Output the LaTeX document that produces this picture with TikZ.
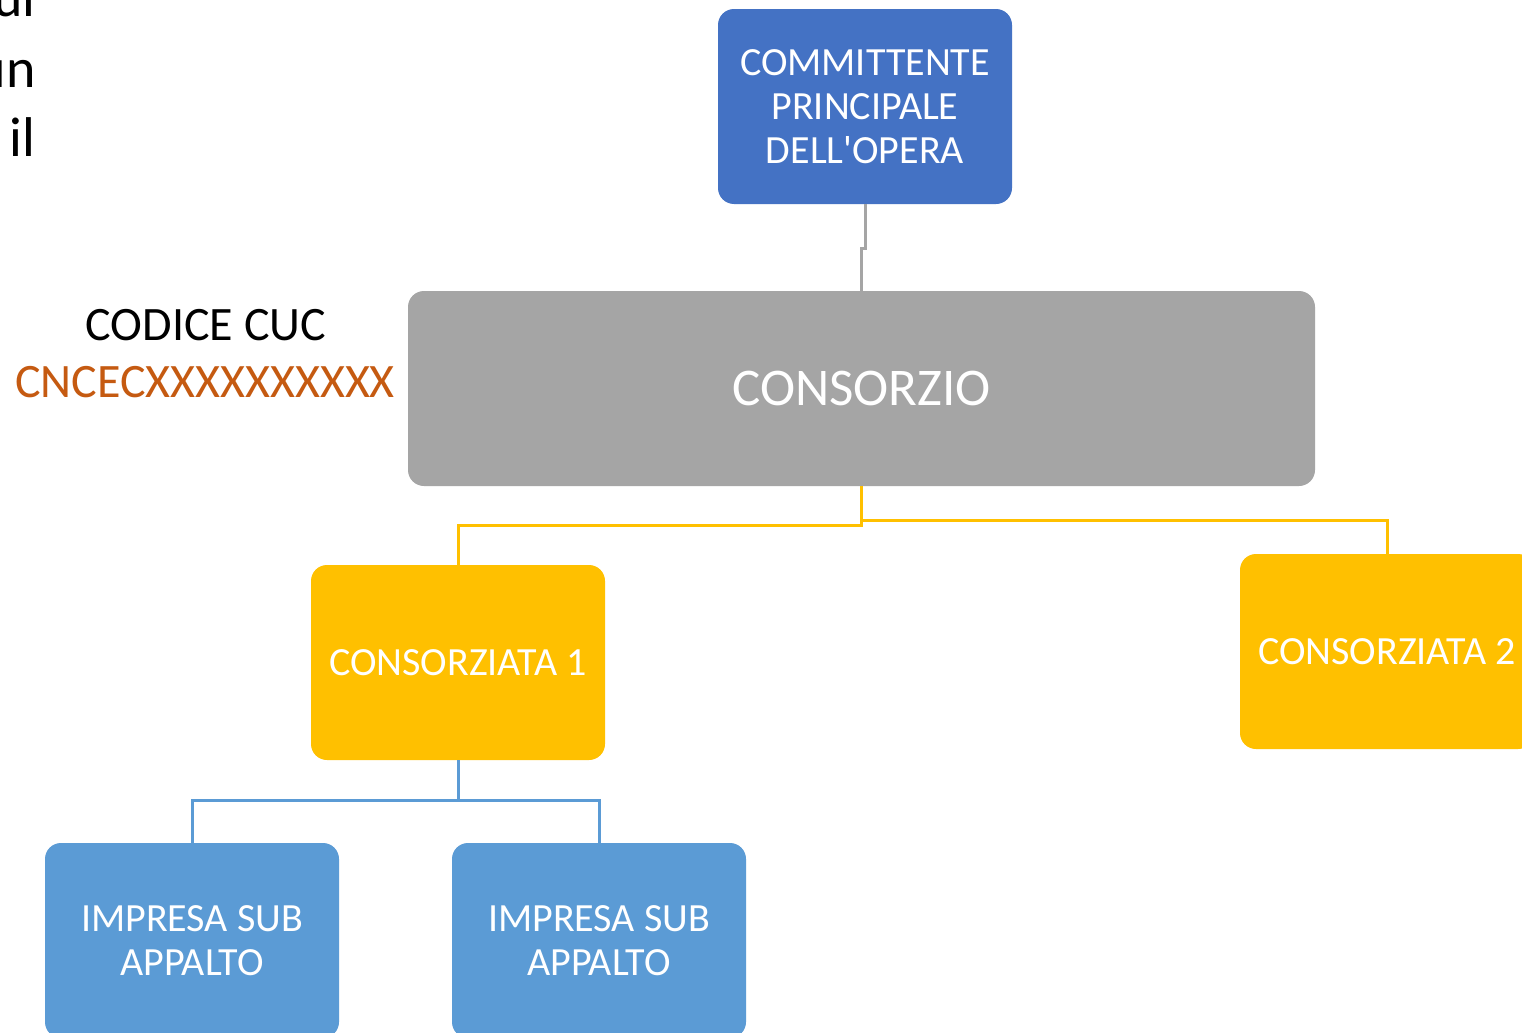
\documentclass[tikz,border=0pt]{standalone}
\usepackage{fontspec}
\setmainfont{Carlito}[Ligatures=ResetAll]
\definecolor{cblue}{HTML}{4472C4}
\definecolor{cgray}{HTML}{A5A5A5}
\definecolor{cyel}{HTML}{FFC000}
\definecolor{lblue}{HTML}{5B9BD5}
\definecolor{corange}{HTML}{C55A11}
\begin{document}
\begin{tikzpicture}[x=0.5pt,y=-0.5pt,
  boxstyle/.style={rounded corners=8pt, inner sep=0pt, minimum width=147pt, minimum height=97.5pt, text=white, align=center, font=\fontsize{20}{22}\selectfont},
  conn/.style={line width=1.5pt}]
\clip (0,0) rectangle (1522,1033);
\fill[white] (0,0) rectangle (1522,1033);
% partial slide text
\node[anchor=base east, inner sep=0pt, font=\fontsize{28}{34}\selectfont] (t1) at (36,17) {ui};
\node[anchor=base east, inner sep=0pt, font=\fontsize{28}{34}\selectfont] (t2) at (36,87) {un};
\node[anchor=base east, inner sep=0pt, font=\fontsize{28}{34}\selectfont] (t3) at (36,156) {il};
% boxes
\node[boxstyle, fill=cblue] (C) at (865,106.5) {COMMITTENTE\\PRINCIPALE\\DELL\textquotesingle OPERA};
\node[boxstyle, fill=cgray, minimum width=453.5pt, font=\fontsize{26.5}{30}\selectfont] (S) at (861.5,388.5) {CONSORZIO};
\node[boxstyle, fill=cyel] (K1) at (458,662.5) {CONSORZIATA 1};
\node[boxstyle, fill=cyel] (K2) at (1387,651.5) {CONSORZIATA 2};
\node[boxstyle, fill=lblue] (I1) at (192,940.5) {IMPRESA SUB\\APPALTO};
\node[boxstyle, fill=lblue] (I2) at (599,940.5) {IMPRESA SUB\\APPALTO};
% labels
\node[font=\fontsize{24}{28}\selectfont, inner sep=0pt] (cuc) at (206,325) {CODICE CUC};
\node[font=\fontsize{24}{28}\selectfont, inner sep=0pt, text=corange] (code) at (205,382) {CNCECXXXXXXXXXX};
% connectors
\draw[conn, cgray] (C.south) -- ++(0,44) -| (S.north);
\draw[conn, cyel] (S.south) -- ++(0,39) -| (K1.north);
\draw[conn, cyel] (S.south) -- ++(0,34) -| (K2.north);
\draw[conn, lblue] (K1.south) -- ++(0,40) -| (I1.north);
\draw[conn, lblue] (K1.south) -- ++(0,40) -| (I2.north);
\end{tikzpicture}
\end{document}
